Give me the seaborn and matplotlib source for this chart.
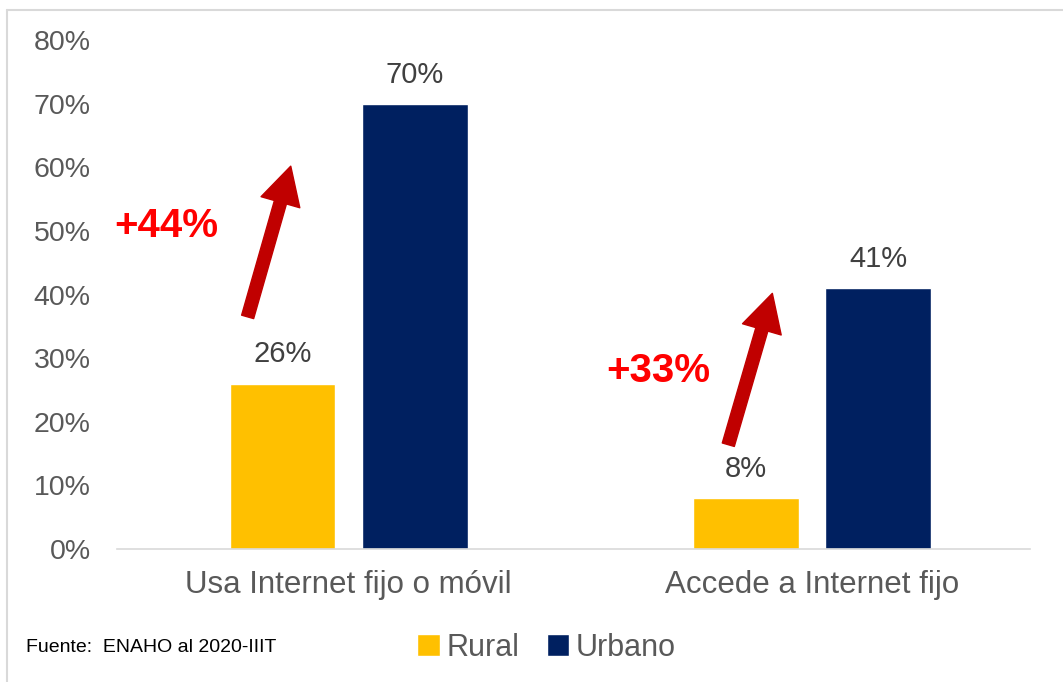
import pandas as pd
import seaborn as sns
import matplotlib.pyplot as plt
from matplotlib.lines import Line2D

categories = ['Usa Internet fijo o móvil', 'Accede a Internet fijo']
rural = [0.26, 0.08]
urbano = [0.70, 0.41]
brechas = ['+44%', '+33%']
yticks = [0, 0.1, 0.2, 0.3, 0.4, 0.5, 0.6, 0.7, 0.8]

df = pd.DataFrame({
    'Categoria': categories * 2,
    'Zona': ['Rural'] * len(categories) + ['Urbano'] * len(categories),
    'Valor': rural + urbano,
})

sns.set_style('white')
plt.rcParams['font.family'] = ['Liberation Sans', 'DejaVu Sans']

fig = plt.figure(figsize=(10.63, 6.82), dpi=100)
ax = fig.add_axes([0.110, 0.195, 0.859, 0.746])

sns.barplot(
    data=df, x='Categoria', y='Valor', hue='Zona',
    palette={'Rural': '#FFC000', 'Urbano': '#002060'},
    width=0.57, gap=0.2, saturation=1, ax=ax
)

for cont in ax.containers:
    ax.bar_label(cont, labels=[f'{v * 100:.0f}%' for v in cont.datavalues],
                 padding=11, fontsize=21, color='#404040')

ax.set_ylim(0, 0.8)
ax.set_xlim(-0.5, 1.47)
ax.set_yticks(yticks)
ax.set_yticklabels([f'{t * 100:.0f}%' for t in yticks])
ax.tick_params(axis='y', labelsize=20.5, labelcolor='#595959', length=0, pad=19)
ax.tick_params(axis='x', labelsize=22.5, labelcolor='#595959', length=0, pad=15)
ax.set_xlabel('')
ax.set_ylabel('')
for s in ['top', 'right', 'left']:
    ax.spines[s].set_visible(False)
ax.spines['bottom'].set_color('#D9D9D9')
ax.spines['bottom'].set_linewidth(1.2)

# flechas de brecha
arrows = [((-0.218, 0.365), (-0.125, 0.602)), ((0.819, 0.164), (0.914, 0.402))]
text_pos = [(-0.394, 0.5075), (0.668, 0.28)]
for (tail, tip), lab, pos in zip(arrows, brechas, text_pos):
    ax.annotate('', xy=tip, xytext=tail,
                arrowprops=dict(arrowstyle='simple,head_length=1.35,head_width=1.45,tail_width=0.45',
                                color='#C00000', shrinkA=0, shrinkB=0, mutation_scale=20))
    ax.text(pos[0], pos[1], lab, color='#FF0000', fontsize=29, fontweight='bold',
            ha='center', va='center')

handles, labels = ax.get_legend_handles_labels()
ax.get_legend().remove()
fig.legend(handles, labels, loc='center', bbox_to_anchor=(0.514, 0.05), ncol=2,
           frameon=False, fontsize=22, labelcolor='#595959',
           handlelength=0.75, handleheight=0.75, handletextpad=0.2, columnspacing=0.9)

fig.text(0.024, 0.05, 'Fuente:  ENAHO al 2020-IIIT', fontsize=14, color='black', va='center')

# borde gris superior e izquierdo
fig.add_artist(Line2D([0.0066, 1.0], [0.985, 0.985], transform=fig.transFigure,
                      color='#D9D9D9', linewidth=1.5))
fig.add_artist(Line2D([0.0066, 0.0066], [0.0, 0.985], transform=fig.transFigure,
                      color='#D9D9D9', linewidth=1.5))

fig.savefig('out.png', dpi=100)
